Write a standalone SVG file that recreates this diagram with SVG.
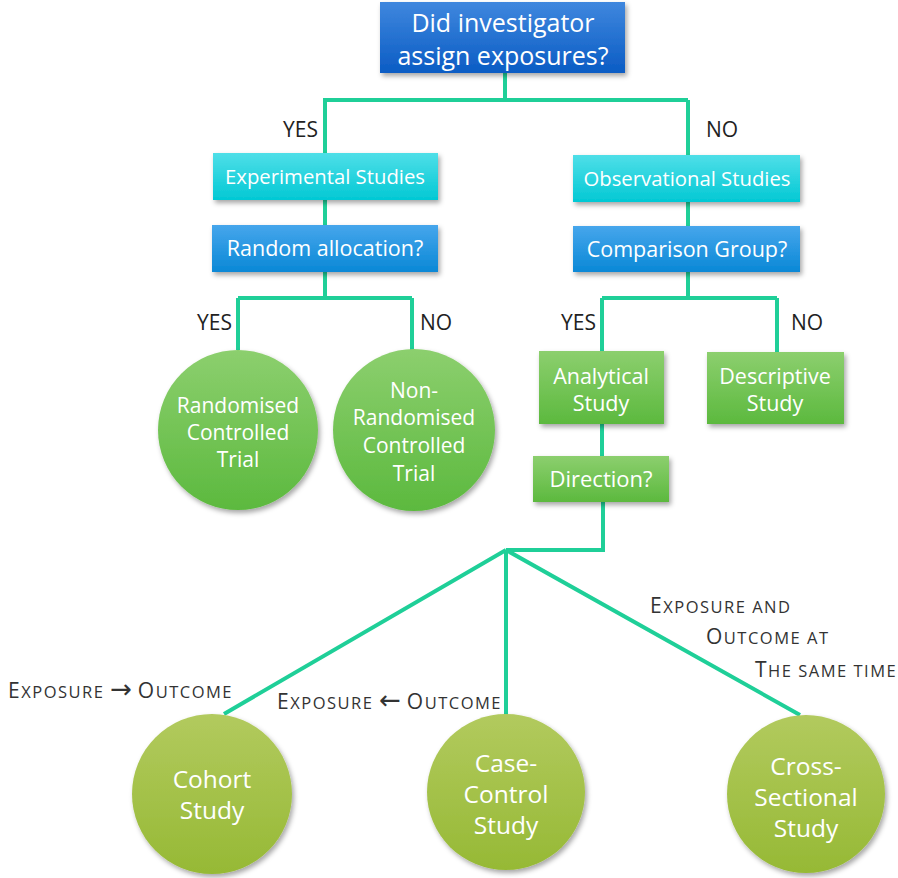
<svg xmlns="http://www.w3.org/2000/svg" width="898" height="878" viewBox="0 0 898 878">
<defs>
<linearGradient id="gDark" x1="0" y1="0" x2="0" y2="1"><stop offset="0" stop-color="#3f87de"/><stop offset="1" stop-color="#0b5cc4"/></linearGradient>
<linearGradient id="gBlue" x1="0" y1="0" x2="0" y2="1"><stop offset="0" stop-color="#46a6ec"/><stop offset="1" stop-color="#0a88d6"/></linearGradient>
<linearGradient id="gCyan" x1="0" y1="0" x2="0" y2="1"><stop offset="0" stop-color="#4fdfe8"/><stop offset="1" stop-color="#02c8d4"/></linearGradient>
<linearGradient id="gGreen" x1="0" y1="0" x2="0" y2="1"><stop offset="0" stop-color="#8ccf6e"/><stop offset="1" stop-color="#5cb93e"/></linearGradient>
<linearGradient id="gOlive" x1="0" y1="0" x2="0" y2="1"><stop offset="0" stop-color="#b2ca5e"/><stop offset="1" stop-color="#96b935"/></linearGradient>
<filter id="sh" x="-20%" y="-20%" width="140%" height="150%"><feDropShadow dx="2" dy="3" stdDeviation="2.5" flood-color="#000" flood-opacity="0.35"/></filter>
</defs>
<style>
.n text{font-family:"Open Sans","Liberation Sans",sans-serif;fill:#fff;text-anchor:middle}
.c{fill:none;stroke:#1fcf98;stroke-width:4}
.l{font-family:"Open Sans","Liberation Sans",sans-serif;fill:#222;font-size:21px}
.sc{font-family:"Open Sans","Liberation Sans",sans-serif;fill:#333;font-size:16.5px;letter-spacing:1.5px}
.b{font-size:21px}
.ar{font-family:"DejaVu Sans",sans-serif;font-size:26px;letter-spacing:0}
</style>
<g id="connectors">
<path class="c" d="M505 73V100M323 100H688M325 100V153M688 100V155"/>
<path class="c" d="M325 200V225M325 272V298M238 298H412M238 298V350M412 298V350"/>
<path class="c" d="M688 202V226M688 272V298M602 298H777M602 298V351M777 298V352"/>
<path class="c" d="M602 424V456M603 502V550H506"/>
<path class="c" d="M506 550L224 714M506 550V715M506 550L800 715"/>
</g>
<g id="labels">
<text class="l" x="283" y="137">YES</text>
<text class="l" x="706" y="137">NO</text>
<text class="l" x="197" y="330">YES</text>
<text class="l" x="420" y="330">NO</text>
<text class="l" x="561" y="330">YES</text>
<text class="l" x="791" y="330">NO</text>
<text class="sc" x="8" y="698"><tspan class="b">E</tspan>XPOSURE <tspan class="ar">→</tspan> <tspan class="b">O</tspan>UTCOME</text>
<text class="sc" x="277" y="709"><tspan class="b">E</tspan>XPOSURE <tspan class="ar">←</tspan> <tspan class="b">O</tspan>UTCOME</text>
<text class="sc" x="650" y="613"><tspan class="b">E</tspan>XPOSURE AND</text>
<text class="sc" x="706" y="644"><tspan class="b">O</tspan>UTCOME AT</text>
<text class="sc" x="755" y="677"><tspan class="b">T</tspan>HE SAME TIME</text>
</g>
<g id="n-top" class="n"><rect x="380" y="2" width="245" height="71" fill="url(#gDark)" filter="url(#sh)"/><text x="503" y="32" font-size="25">Did investigator</text><text x="503" y="65" font-size="25">assign exposures?</text></g>
<g id="n-exp" class="n"><rect x="213" y="153" width="225" height="47" fill="url(#gCyan)" filter="url(#sh)"/><text x="325" y="184" font-size="20.3">Experimental Studies</text></g>
<g id="n-rand" class="n"><rect x="212" y="225" width="226" height="47" fill="url(#gBlue)" filter="url(#sh)"/><text x="325" y="256" font-size="21.5">Random allocation?</text></g>
<g id="n-obs" class="n"><rect x="573" y="155" width="227" height="47" fill="url(#gCyan)" filter="url(#sh)"/><text x="687" y="186" font-size="20.3">Observational Studies</text></g>
<g id="n-comp" class="n"><rect x="573" y="226" width="227" height="46" fill="url(#gBlue)" filter="url(#sh)"/><text x="687" y="257" font-size="21.5">Comparison Group?</text></g>
<g id="n-rct" class="n"><circle cx="238" cy="430" r="80" fill="url(#gGreen)" filter="url(#sh)"/><text font-size="21"><tspan x="238" y="413">Randomised</tspan><tspan x="238" y="440">Controlled</tspan><tspan x="238" y="467">Trial</tspan></text></g>
<g id="n-nrct" class="n"><circle cx="414" cy="430" r="81" fill="url(#gGreen)" filter="url(#sh)"/><text font-size="21"><tspan x="414" y="398">Non-</tspan><tspan x="414" y="425">Randomised</tspan><tspan x="414" y="453">Controlled</tspan><tspan x="414" y="481">Trial</tspan></text></g>
<g id="n-anal" class="n"><rect x="539" y="351" width="125" height="73" fill="url(#gGreen)" filter="url(#sh)"/><text font-size="21.5"><tspan x="601" y="384">Analytical</tspan><tspan x="601" y="411">Study</tspan></text></g>
<g id="n-desc" class="n"><rect x="707" y="352" width="137" height="72" fill="url(#gGreen)" filter="url(#sh)"/><text font-size="21.5"><tspan x="775" y="384">Descriptive</tspan><tspan x="775" y="411">Study</tspan></text></g>
<g id="n-dir" class="n"><rect x="533" y="456" width="136" height="46" fill="url(#gGreen)" filter="url(#sh)"/><text x="601" y="487" font-size="22">Direction?</text></g>
<g id="n-cohort" class="n"><circle cx="212" cy="794" r="80" fill="url(#gOlive)" filter="url(#sh)"/><text font-size="24.5"><tspan x="212" y="788">Cohort</tspan><tspan x="212" y="819">Study</tspan></text></g>
<g id="n-case" class="n"><ellipse cx="506" cy="792" rx="79" ry="78" fill="url(#gOlive)" filter="url(#sh)"/><text font-size="24.5"><tspan x="506" y="772">Case-</tspan><tspan x="506" y="803">Control</tspan><tspan x="506" y="834">Study</tspan></text></g>
<g id="n-cross" class="n"><circle cx="806" cy="794" r="79" fill="url(#gOlive)" filter="url(#sh)"/><text font-size="24.5"><tspan x="806" y="775">Cross-</tspan><tspan x="806" y="806">Sectional</tspan><tspan x="806" y="837">Study</tspan></text></g>
</svg>
